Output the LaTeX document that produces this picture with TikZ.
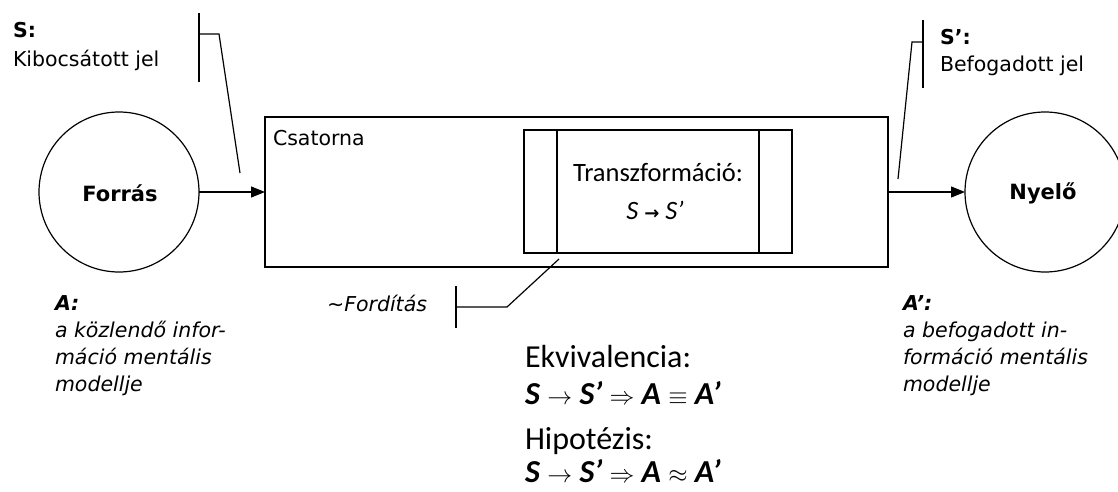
\documentclass[tikz,border=0pt]{standalone}
\usepackage{fontspec}
\setmainfont{DejaVu Sans}
\newfontfamily\calfont{Carlito}
\newfontfamily\symfont{DejaVu Sans}
\usetikzlibrary{arrows.meta}
\begin{document}
\begin{tikzpicture}[x=1pt,y=-1pt,
  line width=1.2pt,
  every node/.style={inner sep=0pt, outer sep=0pt},
  txt/.style={font=\fontsize{20.5}{27}\selectfont, align=left},
  boldtxt/.style={font=\fontsize{21}{27}\selectfont\bfseries},
  caltxt/.style={font=\calfont\fontsize{26.5}{30}\selectfont, align=left},
  bigtxt/.style={font=\calfont\fontsize{32}{34}\selectfont, align=left},
  endpoint/.style={circle, draw, minimum size=160pt},
  boxnode/.style={draw, rectangle},
  flow/.style={-{Triangle[length=14pt,width=11pt]}},
  callout/.style={line width=1.2pt}
]
\useasboundingbox (0,0) rectangle (1118,492);

% source and sink
\node[endpoint] (src) at (119,192) {};
\node[boldtxt] (srclabel) at (120,193) {Forrás};
\node[endpoint] (snk) at (1045,192) {};
\node[boldtxt] (snklabel) at (1043,193) {Nyelő};

% channel with the transformation block
\node[boxnode, anchor=north west, minimum width=623pt, minimum height=150pt] (chan) at (265,117) {};
\node[txt, anchor=west] (chanlabel) at (273,138) {Csatorna};
\node[boxnode, anchor=north west, minimum width=268pt, minimum height=123pt] (trf) at (524,130) {};
\coordinate (trfA) at (557,130);
\coordinate (trfB) at (557,253);
\coordinate (trfC) at (759,130);
\coordinate (trfD) at (759,253);
\draw (trfA) -- (trfB);
\draw (trfC) -- (trfD);
\node[caltxt] (trftitle) at (658,172) {Transzformáció:};
\node[caltxt] (trfrule) at (655,210) {\textit{S} {\symfont\bfseries\fontsize{18}{20}\selectfont →} \textit{S’}};

% signal flow
\draw[flow] (src.east) -- (chan.west);
\draw[flow] (chan.east) -- (snk.west);

% emitted signal callout
\node[txt, anchor=west] (slabel) at (13,30) {\textbf{S:}};
\node[txt, anchor=west] (stext) at (13,60) {Kibocsátott jel};
\coordinate (sTickTop) at (199,13);
\coordinate (sTickBot) at (199,82);
\coordinate (sElbow) at (219,34);
\coordinate (sMid) at (199,34);
\coordinate (sEnd) at (240,173);
\draw[callout] (sTickTop) -- (sTickBot);
\draw[callout] (sMid) -- (sElbow) -- (sEnd);

% received signal callout
\node[txt, anchor=west] (rlabel) at (940,37) {\textbf{S’:}};
\node[txt, anchor=west] (rtext) at (940,66) {Befogadott jel};
\coordinate (rTickTop) at (923,20);
\coordinate (rTickBot) at (923,88);
\coordinate (rMid) at (923,42);
\coordinate (rElbow) at (912,42);
\coordinate (rEnd) at (898,179);
\draw[callout] (rTickTop) -- (rTickBot);
\draw[callout] (rMid) -- (rElbow) -- (rEnd);

% translation callout
\node[txt, anchor=east] (fordlabel) at (427,303) {\textit{\char"007E Fordítás}};
\coordinate (fTickTop) at (456,286);
\coordinate (fTickBot) at (456,328);
\coordinate (fMid) at (456,307);
\coordinate (fElbow) at (507,307);
\coordinate (fEnd) at (559,259);
\draw[callout] (fTickTop) -- (fTickBot);
\draw[callout] (fMid) -- (fElbow) -- (fEnd);

% mental models
\node[txt, anchor=north west] (amodel) at (55,296) {\textbf{\textit{A:}}\\\textit{a közlendő infor-}\\\textit{máció mentális}\\\textit{modellje}};
\node[txt, anchor=north west] (bmodel) at (903,296) {\textbf{\textit{A’:}}\\\textit{a befogadott in-}\\\textit{formáció mentális}\\\textit{modellje}};

% equivalence and hypothesis
\node[bigtxt, anchor=west] (ekv) at (525,357) {Ekvivalencia:};
\node[bigtxt, anchor=west] (ekveq) at (525,393) {\textbf{\textit{S}} $\rightarrow$ \textbf{\textit{S’}} $\Rightarrow$ \textbf{\textit{A}} $\equiv$ \textbf{\textit{A’}}};
\node[bigtxt, anchor=west] (hip) at (525,441) {Hipotézis:};
\node[bigtxt, anchor=west] (hipeq) at (525,471) {\textbf{\textit{S}} $\rightarrow$ \textbf{\textit{S’}} $\Rightarrow$ \textbf{\textit{A}} $\approx$ \textbf{\textit{A’}}};
\end{tikzpicture}
\end{document}
